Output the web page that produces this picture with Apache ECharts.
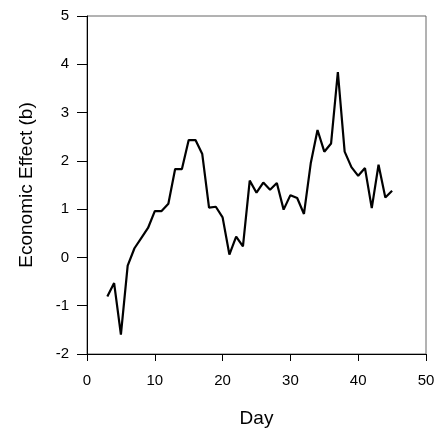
<!DOCTYPE html>
<html>
<head>
<meta charset="utf-8">
<script src="https://cdn.jsdelivr.net/npm/echarts@6/dist/echarts.min.js"></script>
<style>
	html, body { margin: 0; padding: 0; background: #fff; }
	#chart { width: 439px; height: 435px; }
</style>
</head>
<body>
<div id="chart"></div>
<script type="text/javascript">
	// 数据：天数与经济效应
	var days = [3, 4, 5, 6, 7, 8, 9, 10, 11, 12, 13, 14, 15, 16, 17, 18, 19, 20, 21, 22, 23, 24,
		25, 26, 27, 28, 29, 30, 31, 32, 33, 34, 35, 36, 37, 38, 39, 40, 41, 42, 43, 44, 45];
	var effects = [-0.81, -0.53, -1.60, -0.17, 0.19, 0.40, 0.61, 0.96, 0.96, 1.11, 1.83, 1.83, 2.43, 2.43,
		2.14, 1.03, 1.05, 0.83, 0.06, 0.43, 0.23, 1.59, 1.34, 1.55, 1.40, 1.54, 0.99, 1.29, 1.23,
		0.90, 1.95, 2.64, 2.19, 2.36, 3.84, 2.19, 1.87, 1.69, 1.85, 1.02, 1.92, 1.24, 1.38];
	var xTicks = [0, 10, 20, 30, 40, 50];
	var yTicks = [-2, -1, 0, 1, 2, 3, 4, 5];

	var points = [];
	for (var i = 0; i < days.length; i++) {
		points.push([days[i], effects[i]]);
	}

	var font = '"Liberation Sans", Arial, sans-serif';
	var myChart = echarts.init(document.getElementById('chart'));
	var option = {
		animation: false,
		backgroundColor: '#fff',
		grid: {
			left: 87, right: 13, top: 16, bottom: 81,
			show: true,
			borderColor: '#666',
			borderWidth: 1
		},
		xAxis: {
			type: 'value',
			min: xTicks[0],
			max: xTicks[xTicks.length - 1],
			interval: 10,
			name: 'Day',
			nameLocation: 'middle',
			nameGap: 55,
			nameTextStyle: { fontFamily: font, fontSize: 19, color: '#000' },
			axisLine: { show: true, onZero: false, lineStyle: { color: '#000', width: 1 } },
			axisTick: { show: true, length: 7, lineStyle: { color: '#000' } },
			axisLabel: { margin: 19, fontFamily: font, fontSize: 15, color: '#000' },
			splitLine: { show: false }
		},
		yAxis: {
			type: 'value',
			min: yTicks[0],
			max: yTicks[yTicks.length - 1],
			interval: 1,
			name: 'Economic Effect (b)',
			nameLocation: 'middle',
			nameGap: 51,
			nameTextStyle: { fontFamily: font, fontSize: 19, color: '#000' },
			axisLine: { show: true, onZero: false, lineStyle: { color: '#000', width: 1 } },
			axisTick: { show: true, length: 10, lineStyle: { color: '#000' } },
			axisLabel: { margin: 18, fontFamily: font, fontSize: 15, color: '#000' },
			splitLine: { show: false }
		},
		series: [{
			type: 'line',
			data: points,
			symbol: 'none',
			lineStyle: { color: '#000', width: 2.2 }
		}]
	};
	myChart.setOption(option);
</script>
</body>
</html>
